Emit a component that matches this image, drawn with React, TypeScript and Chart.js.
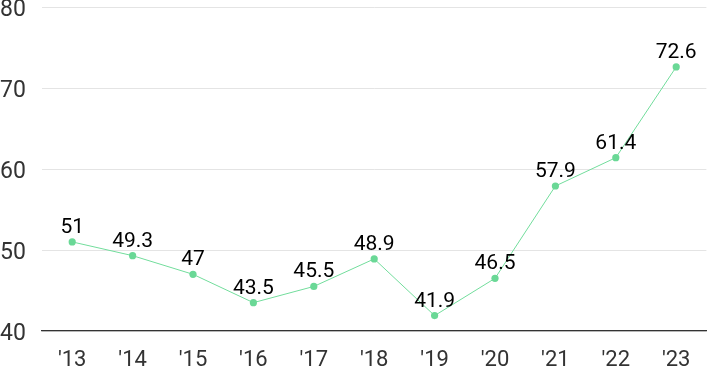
import React, { useEffect, useRef } from "react";
import { Chart, registerables } from "chart.js";

Chart.register(...registerables);

const years = ["'13", "'14", "'15", "'16", "'17", "'18", "'19", "'20", "'21", "'22", "'23"];
const values = [51, 49.3, 47, 43.5, 45.5, 48.9, 41.9, 46.5, 57.9, 61.4, 72.6];
const yTicks = [40, 50, 60, 70, 80];

const FONT = "Roboto, 'Noto Sans CJK KR', sans-serif";

const labelPlugin = {
  id: "pointLabels",
  afterDatasetsDraw(chart: any) {
    const ctx = chart.ctx;
    const meta = chart.getDatasetMeta(0);
    ctx.save();
    ctx.font = `21px ${FONT}`;
    ctx.fillStyle = "#000";
    ctx.textAlign = "center";
    ctx.textBaseline = "alphabetic";
    meta.data.forEach((pt: any, i: number) => {
      ctx.fillText(String(values[i]), pt.x, pt.y - 9);
    });
    ctx.restore();
  },
};

export default function App() {
  const ref = useRef<HTMLCanvasElement>(null);
  useEffect(() => {
    document.body.style.margin = "0";
    const chart = new Chart(ref.current!, {
      type: "line",
      data: {
        labels: years,
        datasets: [
          {
            data: values,
            borderColor: "#72dd9c",
            backgroundColor: "#6ad896",
            borderWidth: 1,
            pointRadius: 3.6,
            pointHoverRadius: 3.6,
            pointBorderWidth: 0,
            tension: 0,
          },
        ],
      },
      options: {
        responsive: false,
        animation: false,
        layout: { padding: { top: 7, right: 0, left: 0, bottom: 0 } },
        plugins: { legend: { display: false }, tooltip: { enabled: false } },
        scales: {
          x: {
            offset: true,
            afterFit: (s: any) => {
              s.height = 40;
            },
            grid: { display: false, drawTicks: false },
            border: { display: true, color: "#333", width: 1.2 },
            ticks: { color: "#333", font: { family: FONT, size: 22 }, padding: 16 },
          },
          y: {
            min: 40,
            max: 80,
            afterBuildTicks: (s: any) => {
              s.ticks = yTicks.map((v) => ({ value: v }));
            },
            afterFit: (s: any) => {
              s.width = 42;
            },
            grid: { color: "#e4e4e4", drawTicks: false },
            border: { display: false },
            ticks: {
              color: "#333",
              font: { family: FONT, size: 23, lineHeight: 0.3 },
              crossAlign: "far",
              padding: 0,
              labelOffset: 3,
            },
          },
        },
      },
      plugins: [labelPlugin],
    });
    return () => chart.destroy();
  }, []);
  return <canvas ref={ref} width={710} height={371} style={{ display: "block" }} />;
}
